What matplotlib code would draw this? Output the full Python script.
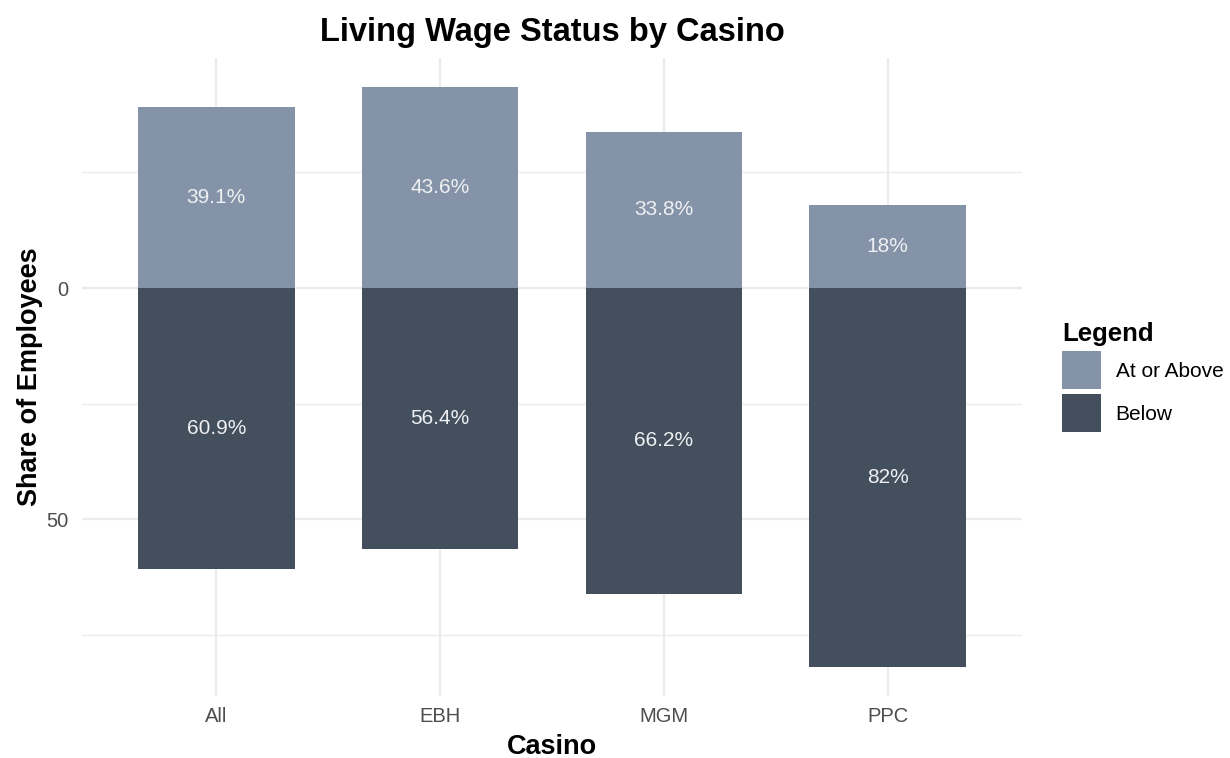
import numpy as np
import matplotlib.pyplot as plt
from matplotlib.patches import Patch

plt.rcParams['font.family'] = ['Liberation Sans', 'DejaVu Sans']

# Daten
casinos = ['All', 'EBH', 'MGM', 'PPC']
above = [39.1, 43.6, 33.8, 18.0]
below = [60.9, 56.4, 66.2, 82.0]
above_labels = ['39.1%', '43.6%', '33.8%', '18%']
below_labels = ['60.9%', '56.4%', '66.2%', '82%']

c_above = '#8493a7'
c_below = '#434f5d'

fig = plt.figure(figsize=(12.3, 7.58), dpi=100)
ax = fig.add_axes([82 / 1230, 1 - 696 / 758, (1022 - 82) / 1230, (696 - 57.5) / 758])

x = np.arange(len(casinos))
# "At or Above" nach oben (negativ), "Below" nach unten (positiv), y-Achse invertiert
ax.bar(x, [-v for v in above], width=0.7, color=c_above, zorder=2)
ax.bar(x, below, width=0.7, color=c_below, zorder=2)

for i in range(len(casinos)):
    ax.text(x[i], -above[i] / 2, above_labels[i], ha='center', va='center',
            color='#eef0f3', fontsize=15)
    ax.text(x[i], below[i] / 2, below_labels[i], ha='center', va='center',
            color='#eef0f3', fontsize=15)

lo = -max(above)
hi = max(below)
pad = (hi - lo) * 0.05
ax.set_ylim(hi + pad, lo - pad)
ax.set_xlim(-0.6, len(casinos) - 0.4)

ax.set_yticks([0, 50])
ax.set_yticks([-25, 25, 75], minor=True)
ax.set_xticks(x)
ax.set_xticklabels(casinos)
ax.tick_params(axis='both', which='both', length=0, labelsize=14.5, labelcolor='#4d4d4d')
ax.tick_params(axis='x', pad=8)
ax.tick_params(axis='y', pad=10)
ax.grid(axis='y', which='major', color='#ebebeb', linewidth=1.6, zorder=0)
ax.grid(axis='y', which='minor', color='#ebebeb', linewidth=1.0, zorder=0)
ax.grid(axis='x', which='major', color='#ebebeb', linewidth=1.6, zorder=0)
for s in ax.spines.values():
    s.set_visible(False)

ax.set_xlabel('Casino', fontsize=19.5, fontweight='bold', labelpad=5.5)
ax.set_ylabel('Share of Employees', fontsize=19.5, fontweight='bold', labelpad=2)
fig.suptitle('Living Wage Status by Casino', fontsize=23.5, fontweight='bold', x=0.449, y=0.978)

handles = [Patch(facecolor=c_above, label='At or Above'),
           Patch(facecolor=c_below, label='Below')]
leg = fig.legend(handles=handles, title='Legend', loc='upper left',
                 bbox_to_anchor=(1052 / 1230, 1 - 312 / 758), frameon=False, borderpad=0,
                 fontsize=15, title_fontproperties={'weight': 'bold', 'size': 18.5},
                 handlelength=1.83, handleheight=2.43, handletextpad=0.72, labelspacing=0.24)
leg._legend_box.align = 'left'

fig.savefig('out.png', dpi=100)
